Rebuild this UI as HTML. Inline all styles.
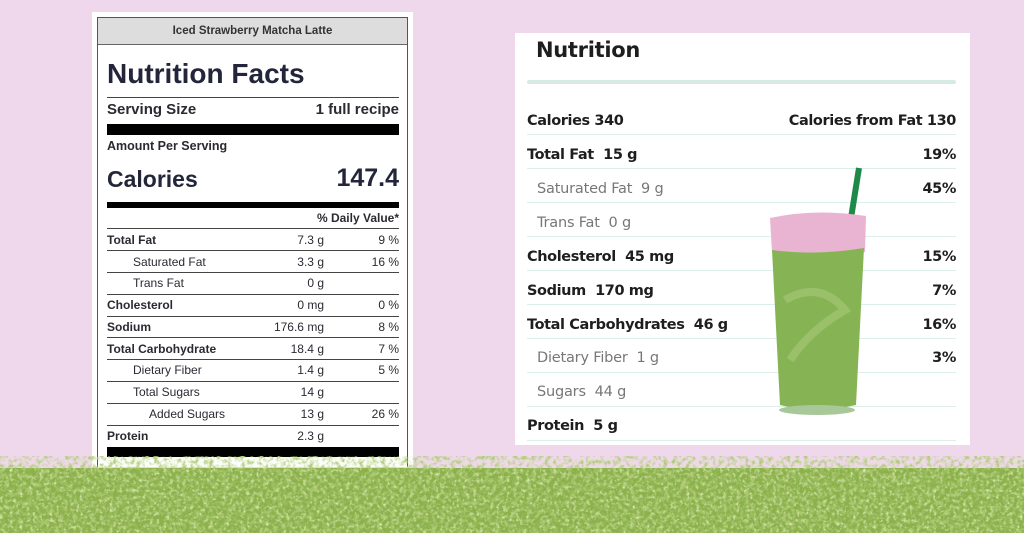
<!DOCTYPE html>
<html><head><style>
body{margin:0;width:1024px;height:533px;background:#efd7ec;position:relative;overflow:hidden;font-family:"Liberation Sans",sans-serif;color:#222}
.a{position:absolute;white-space:nowrap}
#L{position:absolute;left:92px;top:12px;width:321px;height:455px;background:#fff}
#Lb{position:absolute;left:97px;top:17px;width:311px;height:450px;border:1px solid #555;border-bottom:none;box-sizing:border-box}
.ln{position:absolute;left:107px;width:292px;height:1px;background:#444}
.bb{position:absolute;left:107px;width:292px;background:#000}
.r{font-size:12px;color:#2a2a33}
.b{font-weight:bold}
#R{position:absolute;left:515px;top:33px;width:455px;height:412px;background:#fff}
.rl{position:absolute;left:527px;width:429px;height:1px;background:#dcefe9}
.rt{font-family:"DejaVu Sans",sans-serif;font-size:14.5px;color:#1e1e1e;letter-spacing:-0.4px;font-weight:bold;margin-top:2px}
.g{color:#777;font-weight:normal;letter-spacing:-0.2px}
</style></head><body>
<div id="L"></div><div id="Lb"></div>
<div class="a" style="left:98px;top:18px;width:309px;height:26px;background:#ddd;border-bottom:1px solid #666"></div>
<div class="a b" style="left:98px;top:25px;width:309px;text-align:center;font-size:11.5px;color:#333">Iced Strawberry Matcha Latte</div>
<div class="a b" style="left:107px;top:58px;font-size:28px;color:#23263a">Nutrition Facts</div>
<div class="ln" style="top:97px"></div>
<div class="a b" style="left:107px;top:101px;font-size:15px;color:#2a2a33">Serving Size</div>
<div class="a b" style="right:625px;top:101px;font-size:15px;color:#2a2a33">1 full recipe</div>
<div class="bb" style="top:124px;height:11px"></div>
<div class="a b r" style="left:107px;top:139px;font-size:12.5px">Amount Per Serving</div>
<div class="a b" style="left:107px;top:166px;font-size:23px;color:#23263a">Calories</div>
<div class="a b" style="right:625px;top:164px;font-size:25px;color:#23263a">147.4</div>
<div class="bb" style="top:202px;height:6px"></div>
<div class="a b r" style="right:625px;top:211px">% Daily Value*</div>
<div class="ln" style="top:228px"></div>
<div class="a b r" style="left:107px;top:233px">Total Fat</div><div class="a r" style="right:700px;top:233px">7.3 g</div><div class="a r" style="right:625px;top:233px">9 %</div>
<div class="ln" style="top:250px"></div>
<div class="a r" style="left:133px;top:255px">Saturated Fat</div><div class="a r" style="right:700px;top:255px">3.3 g</div><div class="a r" style="right:625px;top:255px">16 %</div>
<div class="ln" style="top:272px"></div>
<div class="a r" style="left:133px;top:276px">Trans Fat</div><div class="a r" style="right:700px;top:276px">0 g</div>
<div class="ln" style="top:294px"></div>
<div class="a b r" style="left:107px;top:298px">Cholesterol</div><div class="a r" style="right:700px;top:298px">0 mg</div><div class="a r" style="right:625px;top:298px">0 %</div>
<div class="ln" style="top:316px"></div>
<div class="a b r" style="left:107px;top:320px">Sodium</div><div class="a r" style="right:700px;top:320px">176.6 mg</div><div class="a r" style="right:625px;top:320px">8 %</div>
<div class="ln" style="top:337px"></div>
<div class="a b r" style="left:107px;top:342px">Total Carbohydrate</div><div class="a r" style="right:700px;top:342px">18.4 g</div><div class="a r" style="right:625px;top:342px">7 %</div>
<div class="ln" style="top:359px"></div>
<div class="a r" style="left:133px;top:363px">Dietary Fiber</div><div class="a r" style="right:700px;top:363px">1.4 g</div><div class="a r" style="right:625px;top:363px">5 %</div>
<div class="ln" style="top:381px"></div>
<div class="a r" style="left:133px;top:385px">Total Sugars</div><div class="a r" style="right:700px;top:385px">14 g</div>
<div class="ln" style="top:403px"></div>
<div class="a r" style="left:149px;top:407px">Added Sugars</div><div class="a r" style="right:700px;top:407px">13 g</div><div class="a r" style="right:625px;top:407px">26 %</div>
<div class="ln" style="top:425px"></div>
<div class="a b r" style="left:107px;top:429px">Protein</div><div class="a r" style="right:700px;top:429px">2.3 g</div>
<div class="bb" style="top:447px;height:10px"></div>

<div id="R"></div>
<div class="a" style="left:536px;top:38px;font-family:'DejaVu Sans',sans-serif;font-size:21px;font-weight:bold;letter-spacing:-0.3px;color:#1e1e1e">Nutrition</div>
<div class="a" style="left:527px;top:80px;width:429px;height:4px;background:#d6ebe4;border-radius:2px"></div>
<div class="a rt" style="left:527px;top:111px">Calories 340</div><div class="a rt" style="right:68px;top:111px">Calories from Fat 130</div>
<div class="rl" style="top:134px"></div>
<div class="a rt" style="left:527px;top:145px">Total Fat&nbsp; 15 g</div><div class="a rt" style="right:68px;top:145px">19%</div>
<div class="rl" style="top:168px"></div>
<div class="a rt g" style="left:537px;top:179px">Saturated Fat&nbsp; 9 g</div><div class="a rt" style="right:68px;top:179px">45%</div>
<div class="rl" style="top:202px"></div>
<div class="a rt g" style="left:537px;top:213px">Trans Fat&nbsp; 0 g</div>
<div class="rl" style="top:236px"></div>
<div class="a rt" style="left:527px;top:247px">Cholesterol&nbsp; 45 mg</div><div class="a rt" style="right:68px;top:247px">15%</div>
<div class="rl" style="top:270px"></div>
<div class="a rt" style="left:527px;top:281px">Sodium&nbsp; 170 mg</div><div class="a rt" style="right:68px;top:281px">7%</div>
<div class="rl" style="top:304px"></div>
<div class="a rt" style="left:527px;top:315px">Total Carbohydrates&nbsp; 46 g</div><div class="a rt" style="right:68px;top:315px">16%</div>
<div class="rl" style="top:338px"></div>
<div class="a rt g" style="left:537px;top:348px">Dietary Fiber&nbsp; 1 g</div><div class="a rt" style="right:68px;top:348px">3%</div>
<div class="rl" style="top:372px"></div>
<div class="a rt g" style="left:537px;top:382px">Sugars&nbsp; 44 g</div>
<div class="rl" style="top:406px"></div>
<div class="a rt" style="left:527px;top:416px">Protein&nbsp; 5 g</div>
<div class="rl" style="top:440px"></div>

<svg class="a" style="left:760px;top:160px" width="110" height="260">
<line x1="99" y1="8" x2="91" y2="58" stroke="#1e8a4a" stroke-width="6"/>
<path d="M10 58 Q55 48 106 56 L105 92 Q55 100 12 92 Z" fill="#e9b3d2"/>
<path d="M12 90 Q55 96 104 88 L96 245 Q55 254 20 245 Z" fill="#86b455"/>
<path d="M25 140 Q60 120 85 150 Q50 170 30 200" stroke="#a8c978" stroke-width="8" fill="none" opacity=".6"/>
<ellipse cx="57" cy="250" rx="38" ry="5" fill="#a9c89a"/>
</svg>

<svg class="a" style="left:0;top:456px" width="1024" height="77">
<defs><filter id="n"><feTurbulence type="fractalNoise" baseFrequency="0.22" numOctaves="3" seed="5"/><feColorMatrix values="0 0 0 0 0.42  0 0 0 0 0.6  0 0 0 0 0.18  0 0 0 -3 1.7"/></filter>
<filter id="m"><feTurbulence type="fractalNoise" baseFrequency="0.3" numOctaves="2" seed="9"/><feColorMatrix values="0 0 0 0 0.72  0 0 0 0 0.82  0 0 0 0 0.45  0 0 0 3 -1.6"/></filter></defs>
<rect x="0" y="12" width="1024" height="65" fill="#8cb14c"/>
<rect x="0" y="0" width="1024" height="77" filter="url(#n)"/>
<rect x="0" y="8" width="1024" height="69" filter="url(#m)"/>
</svg>
</body></html>
